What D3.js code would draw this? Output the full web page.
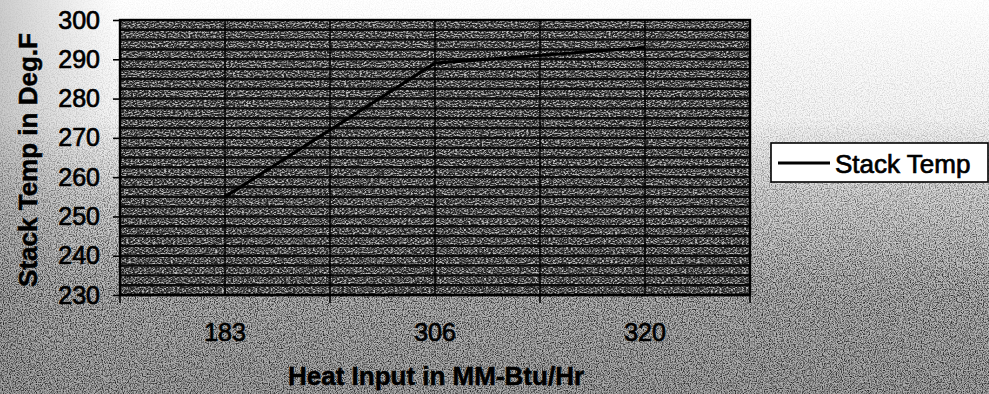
<!DOCTYPE html>
<html>
<head>
<meta charset="utf-8">
<script src="https://cdn.jsdelivr.net/npm/d3@7"></script>
<style>
  html, body { margin: 0; padding: 0; background: #ffffff; }
  svg { display: block; }
  text { font-family: "Liberation Sans", Arial, Helvetica, sans-serif; fill: #000; }
</style>
</head>
<body>
<svg id="chart" width="989" height="394"></svg>
<script>
// Stack temperature against heat input
const categories = ["183", "306", "320"];
const stackTemp = [255, 289, 293];
const yTicks = [230, 240, 250, 260, 270, 280, 290, 300];
const seriesName = "Stack Temp";
const xTitle = "Heat Input in MM-Btu/Hr";
const yTitle = "Stack Temp in Deg.F";

const W = 989, H = 394;
const plot = { left: 120, right: 750, top: 20, bottom: 295 };

const svg = d3.select("#chart");
const defs = svg.append("defs");

// page tone: pale at the top, greyer toward the bottom
const bg = defs.append("linearGradient").attr("id", "pageTone")
  .attr("x1", 0).attr("y1", 0).attr("x2", 0).attr("y2", 1);
[[0, "#ffffff"], [0.3, "#f6f6f6"], [0.5, "#d6d6d6"], [0.75, "#b6b6b6"], [1, "#a8a8a8"]]
  .forEach(([o, c]) => bg.append("stop").attr("offset", o).attr("stop-color", c));

const side = defs.append("linearGradient").attr("id", "leftTone")
  .attr("x1", 0).attr("y1", 0).attr("x2", 1).attr("y2", 0);
[[0, "#9a9a9a", 0.5], [0.12, "#b5b5b5", 0.0]]
  .forEach(([o, c, a]) => side.append("stop").attr("offset", o).attr("stop-color", c).attr("stop-opacity", a));

// dark grain for the page
const grain = defs.append("filter").attr("id", "grain")
  .attr("x", 0).attr("y", 0).attr("width", 1).attr("height", 1);
grain.append("feTurbulence").attr("type", "fractalNoise")
  .attr("baseFrequency", "0.85").attr("numOctaves", 2).attr("seed", 4).attr("result", "n");
grain.append("feColorMatrix").attr("type", "matrix")
  .attr("values", "0 0 0 0 0  0 0 0 0 0  0 0 0 0 0  2.6 0 0 0 -1.05");

// light speckle for the plot fill
const speck = defs.append("filter").attr("id", "speck")
  .attr("x", 0).attr("y", 0).attr("width", 1).attr("height", 1);
speck.append("feTurbulence").attr("type", "fractalNoise")
  .attr("baseFrequency", "0.45 0.9").attr("numOctaves", 2).attr("seed", 9).attr("result", "n");
speck.append("feColorMatrix").attr("type", "matrix")
  .attr("values", "0 0 0 0 1  0 0 0 0 1  0 0 0 0 1  3.2 0 0 0 -1.3");

// page background
svg.append("rect").attr("width", W).attr("height", H).attr("fill", "url(#pageTone)");
svg.append("rect").attr("width", W).attr("height", H).attr("fill", "url(#leftTone)");
const grainMask = defs.append("linearGradient").attr("id", "grainFade")
  .attr("x1", 0).attr("y1", 0).attr("x2", 0).attr("y2", 1);
[[0, 0.05], [0.3, 0.2], [0.5, 0.65], [0.72, 1], [1, 1]]
  .forEach(([o, a]) => grainMask.append("stop").attr("offset", o).attr("stop-color", "#fff").attr("stop-opacity", a));
const gm = defs.append("mask").attr("id", "grainMask");
gm.append("rect").attr("width", W).attr("height", H).attr("fill", "url(#grainFade)");
svg.append("rect").attr("width", W).attr("height", H)
  .attr("filter", "url(#grain)").attr("mask", "url(#grainMask)").attr("opacity", 0.8);

// scales
const x = d3.scaleBand().domain(categories).range([plot.left, plot.right]).padding(0);
const y = d3.scaleLinear().domain([230, 300]).range([plot.bottom, plot.top]);

// plot area fill
svg.append("rect")
  .attr("x", plot.left).attr("y", plot.top)
  .attr("width", plot.right - plot.left).attr("height", plot.bottom - plot.top)
  .attr("fill", "#222222");
svg.append("rect")
  .attr("x", plot.left).attr("y", plot.top)
  .attr("width", plot.right - plot.left).attr("height", plot.bottom - plot.top)
  .attr("filter", "url(#speck)").attr("opacity", 0.72);

// dense horizontal hatch lines
const hatch = d3.range(230, 300, 2.5);
svg.append("g").selectAll("line").data(hatch).join("line")
  .attr("x1", plot.left).attr("x2", plot.right)
  .attr("y1", d => y(d)).attr("y2", d => y(d))
  .attr("stroke", "#0a0a0a").attr("stroke-width", 2.4);

// vertical gridlines at band edges and centres
const bandEdges = categories.map(c => x(c)).concat([x(categories[categories.length - 1]) + x.bandwidth()]);
const bandCentres = categories.map(c => x(c) + x.bandwidth() / 2);
svg.append("g").selectAll("line").data(bandEdges.slice(1, -1).concat(bandCentres)).join("line")
  .attr("x1", d => d).attr("x2", d => d)
  .attr("y1", plot.top).attr("y2", plot.bottom)
  .attr("stroke", "#000").attr("stroke-width", 1.5);

// plot border
svg.append("rect")
  .attr("x", plot.left).attr("y", plot.top)
  .attr("width", plot.right - plot.left).attr("height", plot.bottom - plot.top)
  .attr("fill", "none").attr("stroke", "#000").attr("stroke-width", 2.4);

// y axis
const yAxis = svg.append("g")
  .attr("transform", `translate(${plot.left},0)`)
  .call(d3.axisLeft(y).tickValues(yTicks).tickSize(7).tickPadding(13).tickFormat(d3.format("d")));
yAxis.select(".domain").remove();
yAxis.selectAll(".tick line").attr("stroke", "#000").attr("stroke-width", 1.6);
yAxis.selectAll(".tick text")
  .style("font-family", "'Liberation Sans', Arial, sans-serif")
  .style("font-size", "25px").attr("fill", "#000")
  .attr("stroke", "#000").attr("stroke-width", 0.7);

// x axis: ticks on band edges, labels centred in bands
const xAxis = svg.append("g").attr("transform", `translate(0,${plot.bottom})`);
xAxis.selectAll("line").data(bandEdges).join("line")
  .attr("x1", d => d).attr("x2", d => d)
  .attr("y1", 0).attr("y2", 8)
  .attr("stroke", "#000").attr("stroke-width", 1.6);
xAxis.selectAll("text").data(categories).join("text")
  .attr("x", d => x(d) + x.bandwidth() / 2)
  .attr("y", 46)
  .attr("text-anchor", "middle")
  .attr("stroke", "#000").attr("stroke-width", 0.7)
  .style("font-size", "25px")
  .text(d => d);

// series line
const line = d3.line()
  .x((d, i) => x(categories[i]) + x.bandwidth() / 2)
  .y(d => y(d));
svg.append("path")
  .datum(stackTemp)
  .attr("d", line)
  .attr("fill", "none")
  .attr("stroke", "#000")
  .attr("stroke-width", 3.2)
  .attr("stroke-linejoin", "round");

// axis titles
svg.append("text")
  .attr("x", 436).attr("y", 385)
  .attr("text-anchor", "middle")
  .attr("stroke", "#000").attr("stroke-width", 0.5)
  .style("font-size", "26px").style("font-weight", "bold")
  .text(xTitle);
svg.append("text")
  .attr("transform", "translate(37,160) rotate(-90)")
  .attr("text-anchor", "middle")
  .attr("stroke", "#000").attr("stroke-width", 0.5)
  .style("font-size", "26px").style("font-weight", "bold")
  .text(yTitle);

// legend
const legend = svg.append("g").attr("transform", "translate(771,143)");
legend.append("rect")
  .attr("width", 217).attr("height", 39)
  .attr("fill", "#fff").attr("stroke", "#000").attr("stroke-width", 1.6);
legend.append("line")
  .attr("x1", 7).attr("x2", 59).attr("y1", 20).attr("y2", 20)
  .attr("stroke", "#000").attr("stroke-width", 3);
legend.append("text")
  .attr("x", 64).attr("y", 30)
  .attr("stroke", "#000").attr("stroke-width", 0.7)
  .style("font-size", "26px")
  .text(seriesName);
</script>
</body>
</html>
